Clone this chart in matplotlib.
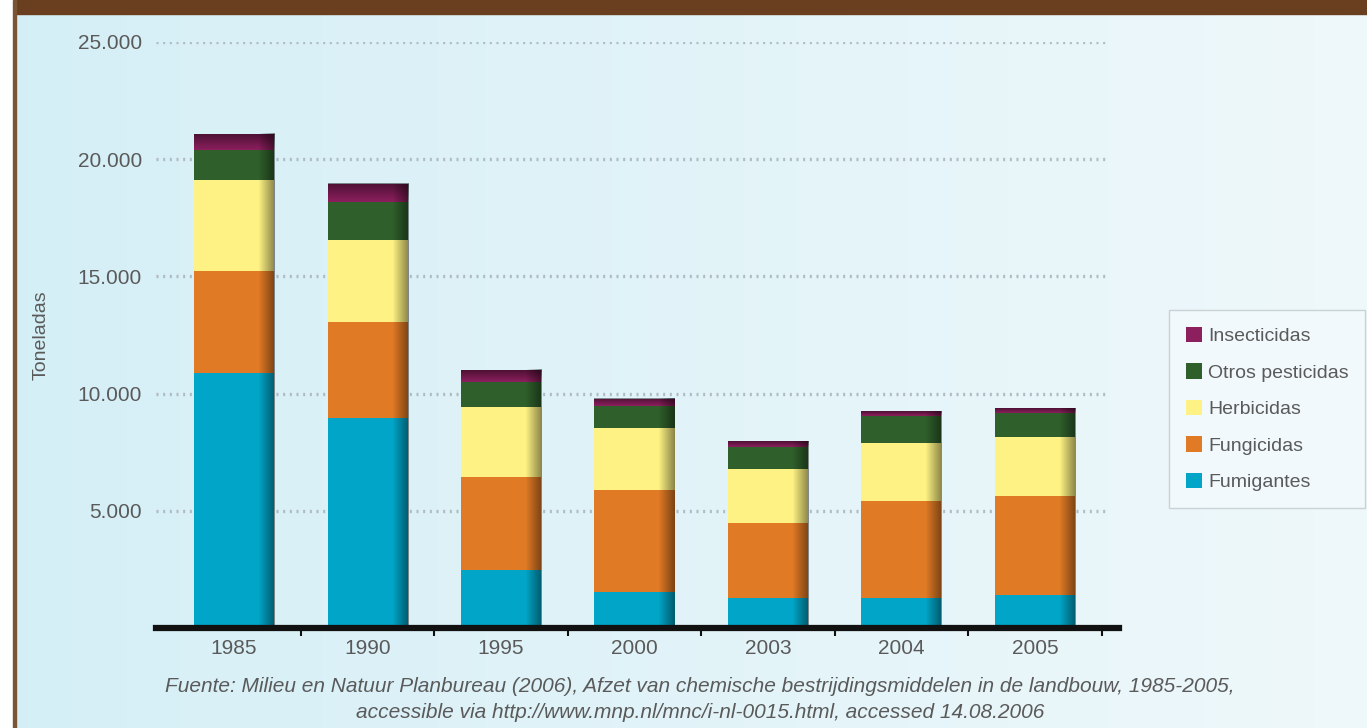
import numpy as np
import matplotlib
matplotlib.use("Agg")
import matplotlib.pyplot as plt
from matplotlib.patches import Rectangle

# data (toneladas)
years = ["1985", "1990", "1995", "2000", "2003", "2004", "2005"]
fumigantes = [10900, 8950, 2470, 1540, 1280, 1280, 1410]
fungicidas = [4350, 4100, 3970, 4350, 3200, 4140, 4220]
herbicidas = [3880, 3500, 2990, 2640, 2300, 2470, 2520]
otros = [1280, 1620, 1070, 940, 940, 1150, 1020]
insecticidas = [680, 770, 510, 300, 250, 210, 210]

series = [
    ("Fumigantes", fumigantes, "#00a5c7"),
    ("Fungicidas", fungicidas, "#e07a25"),
    ("Herbicidas", herbicidas, "#fdf283"),
    ("Otros pesticidas", otros, "#2f5f2b"),
    ("Insecticidas", insecticidas, "#8c1f5e"),
]
yticks = [5000, 10000, 15000, 20000, 25000]
ytick_labels = ["5.000", "10.000", "15.000", "20.000", "25.000"]

FONT = ["Liberation Sans", "DejaVu Sans"]
GREY = "#5a5a5a"
W, H = 1367, 728

fig = plt.figure(figsize=(W / 100, H / 100), dpi=100, facecolor="white")

# background: pale blue gradient panel with brown header strip and left rule
bg = fig.add_axes([0, 0, 1, 1])
bg.set_xlim(0, W)
bg.set_ylim(H, 0)
bg.axis("off")
grad = np.linspace(0, 1, 256)[None, :]
c0 = np.array([0.835, 0.937, 0.965])
c1 = np.array([0.937, 0.973, 0.984])
img = c0 + (c1 - c0) * grad[..., None]
bg.imshow(img, extent=(16, W, H, 14), aspect="auto", zorder=0)
bg.add_patch(Rectangle((14, 0), W - 14, 14, color="#693f20", zorder=1))
bg.add_patch(Rectangle((13, 0), 3, H, color="#7a5535", zorder=1))

ax = fig.add_axes([156 / W, (H - 628) / H, (1119 - 156) / W, (628 - 42) / H])
ax.set_facecolor("none")
x = np.arange(len(years))
width = 0.6

bottom = np.zeros(len(years))
handles = {}
for name, vals, color in series:
    bars = ax.bar(x, vals, width, bottom=bottom, color=color, zorder=3,
                  edgecolor="none", label=name)
    handles[name] = bars
    bottom += np.array(vals)

# darker shading along the right edge of each bar
shade = np.zeros((1, 100, 4))
ramp = np.clip((np.linspace(0, 1, 100) - 0.8) / 0.2, 0, 1)
shade[0, :, 3] = 0.45 * ramp
for i, p in enumerate(handles["Fumigantes"]):
    x0 = p.get_x()
    ax.imshow(shade, extent=(x0, x0 + p.get_width(), 0, bottom[i]),
              aspect="auto", zorder=4)

# insecticide caps get darker towards the top
cap = np.zeros((100, 1, 4))
cap[:, 0, 3] = np.linspace(0.45, 0.0, 100)
for i, p in enumerate(handles["Insecticidas"]):
    ax.imshow(cap, extent=(p.get_x(), p.get_x() + p.get_width(), p.get_y(), p.get_y() + p.get_height()),
              aspect="auto", zorder=4, origin="upper")

ax.set_xlim(-0.585, 6.63)
ax.set_ylim(0, 25000)

for yv in yticks:
    ax.axhline(yv, xmin=0, xmax=0.99, color="#aebbc0", lw=2.4,
               linestyle=(0, (0.6, 1.4)), zorder=1)

ax.set_yticks(yticks)
ax.set_yticklabels(ytick_labels, family=FONT, fontsize=15, color=GREY)
ax.tick_params(axis="y", length=0, pad=10)
ax.set_xticks(x)
ax.set_xticklabels(years, family=FONT, fontsize=15, color=GREY)
ax.set_xticks(x + 0.5, minor=True)
ax.tick_params(axis="x", which="major", length=0, pad=8)
ax.tick_params(axis="x", which="minor", length=6, width=1.5, color="#111111", direction="out")

for s in ("top", "right", "left"):
    ax.spines[s].set_visible(False)
ax.spines["bottom"].set_linewidth(4.5)
ax.spines["bottom"].set_color("#111111")
ax.spines["bottom"].set_zorder(5)

ax.set_ylabel("Toneladas", family=FONT, fontsize=14, color=GREY)
ax.yaxis.set_label_coords(-0.11, 0.5)

order = ["Insecticidas", "Otros pesticidas", "Herbicidas", "Fungicidas", "Fumigantes"]
leg = fig.legend([handles[n] for n in order], order,
                 loc="upper left", bbox_to_anchor=(1169 / W, (H - 310) / H),
                 borderaxespad=0, prop={"family": FONT, "size": 14},
                 handlelength=0.85, handleheight=0.85,
                 handletextpad=0.3, labelspacing=0.93, borderpad=0.85,
                 frameon=True, fancybox=False, facecolor="#f1f9fc", edgecolor="#c9d2d4",
                 framealpha=1)
for t in leg.get_texts():
    t.set_color(GREY)

fig.text(700 / W, (H - 686) / H,
         "Fuente: Milieu en Natuur Planbureau (2006), Afzet van chemische bestrijdingsmiddelen "
         "in de landbouw, 1985-2005,",
         ha="center", va="center", family=FONT, fontsize=15, style="italic", color=GREY)
fig.text(700 / W, (H - 713) / H,
         "accessible via http://www.mnp.nl/mnc/i-nl-0015.html, accessed 14.08.2006",
         ha="center", va="center", family=FONT, fontsize=15, style="italic", color=GREY)

fig.savefig("out.png", dpi=100)
